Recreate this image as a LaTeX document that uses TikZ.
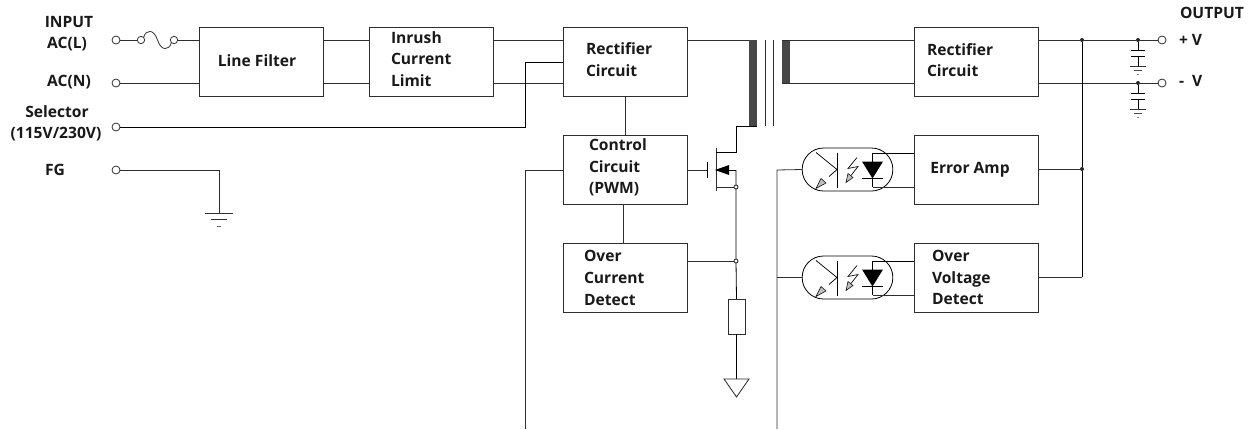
\documentclass[tikz,border=0pt]{standalone}
\usepackage{fontspec}
\setmainfont{Open Sans}
\begin{document}
\begin{tikzpicture}[x=0.75pt,y=-0.75pt,
  wire/.style={line width=0.6pt,draw=black!82},
  bwire/.style={line width=0.6pt,draw=black},
  blockbox/.style={draw=black!82,line width=0.7pt,minimum width=93pt,minimum height=51.75pt,inner sep=0pt,outer sep=0pt},
  terminal/.style={circle,draw=black!82,line width=0.6pt,fill=white,minimum size=6pt,inner sep=0pt,outer sep=0pt},
  fusepin/.style={circle,draw=black!82,line width=0.6pt,fill=white,minimum size=5.5pt,inner sep=0pt,outer sep=0pt},
  dotj/.style={circle,fill=black!85,minimum size=3pt,inner sep=0pt,outer sep=0pt},
  dotopen/.style={circle,draw=black,line width=0.5pt,fill=white,minimum size=3pt,inner sep=0pt,outer sep=0pt},
  lbl/.style={font=\bfseries\fontsize{11.7pt}{16.2pt}\selectfont,text=black!90,inner sep=0pt,outer sep=0pt,align=center},
  lbll/.style={lbl,anchor=west,align=left},
  core/.style={fill=black!72},
  stadium/.style={draw=black,line width=0.6pt,minimum width=68pt,minimum height=32.25pt,rounded corners=16pt,inner sep=0pt,outer sep=0pt},
  photo/.pic={
    \draw[line width=0.55pt] (35,-17)--(35,18);
    \draw[line width=0.55pt] (14,-17)--(35,0)--(27,7);
    \draw[line width=0.4pt,fill=black!25] (14,19)--(19,9)--(24,13.5)--cycle;
    \draw[line width=0.5pt] (55,-12)--(46,-1)--(56,-3)--(49,6);
    \draw[line width=0.4pt,fill=black!25] (44,13)--(46,4)--(51,8)--cycle;
    \fill[black] (60,-8)--(81,-8)--(70.5,9)--cycle;
    \draw[line width=0.6pt] (60,9)--(81,9);
  },
  earth/.pic={
    \draw[wire] (-14,0)--(14,0);
    \draw[wire] (-8,6)--(8,6);
    \draw[line width=0.5pt,draw=black!60] (-2,13)--(2,13);
  }]
\useasboundingbox (0,0) rectangle (1253,429);
% blocks
\node[blockbox] (lf) at (261,61.5) {};
\node[blockbox] (ir) at (431,61.5) {};
\node[blockbox] (r1) at (625,61.5) {};
\node[blockbox] (cc) at (625,169.5) {};
\node[blockbox] (oc) at (625,278) {};
\node[blockbox] (r2) at (976,61.5) {};
\node[blockbox] (ea) at (976,169.5) {};
\node[blockbox] (ov) at (976,278) {};
% block labels
\node[lbl] (tlf) at (257,61) {Line Filter};
\node[lbll] (tir) at (391,59) {Inrush\\Current\\Limit};
\node[lbll] (tr1) at (586,59.5) {Rectifier\\Circuit};
\node[lbll] (tcc) at (589,167.5) {Control\\Circuit\\(PWM)};
\node[lbll] (toc) at (584,278) {Over\\Current\\Detect};
\node[lbll] (tr2) at (927,60) {Rectifier\\Circuit};
\node[lbl] (tea) at (970,170) {Error Amp};
\node[lbll] (tov) at (932,277.5) {Over\\Voltage\\Detect};
% outer labels
\node[lbl] (l1) at (69,22) {INPUT};
\node[lbl] (l2) at (67,44) {AC(L)};
\node[lbl] (l3) at (69,82) {AC(N)};
\node[lbl] (l4) at (57,112) {Selector};
\node[lbl] (l5) at (56,134) {(115V/230V)};
\node[lbl] (l6) at (55,170) {FG};
\node[lbl] (l7) at (1212,13) {OUTPUT};
\node[lbl,anchor=west] (l8) at (1179,40) {+ V};
\node[lbl,anchor=west] (l9) at (1179,81) {-\ \ V};
% terminals
\node[terminal] (tL) at (116,40) {};
\node[terminal] (tN) at (116,83) {};
\node[terminal] (tS) at (116,127) {};
\node[terminal] (tF) at (116,170) {};
\node[terminal] (tP) at (1162,40) {};
\node[terminal] (tM) at (1162,83) {};
\node[fusepin] (fa) at (141,40) {};
\node[fusepin] (fb) at (174,40) {};
% input wiring
\draw[wire] (tL)--(fa);
\draw[wire] (fa.north east) .. controls (146,29) and (154,29) .. (157.5,40) .. controls (161,51) and (169,51) .. (fb.south west);
\draw[wire] (fb)--(fb-|lf.west);
\draw[wire] (tN)--(tN-|lf.west);
\draw[wire] (lf.east|-fb)--(ir.west|-fb);
\draw[wire] (lf.east|-tN)--(ir.west|-tN);
\draw[wire] (ir.east|-fb)--(r1.west|-fb);
\draw[wire] (ir.east|-tN)--(r1.west|-tN);
\coordinate (selc) at (525,127);
\coordinate (selt) at (525,62);
\draw[bwire] (tS)--(selc)--(selt)--(selt-|r1.west);
% FG
\coordinate (gc) at (219,170);
\coordinate (g0) at (219,213);
\draw[wire] (tF)--(gc)--(g0);
\pic at (g0) {earth};
% vertical between blocks
\draw[wire] (625,96)--(625,135);
\draw[wire] (623,204)--(623,243);
% transformer
\coordinate (pa) at (749,40);
\coordinate (pb) at (757,126);
\coordinate (sa) at (782,40);
\coordinate (sb) at (790,83);
\draw[wire] (r1.east|-pa)--(pa);
\fill[core] (pa) rectangle (pb);
\draw[wire] (765,40)--(765,126);
\draw[wire] (773,40)--(773,126);
\fill[core] (sa) rectangle (sb);
\draw[wire] (sa)--(r2.west|-sa);
\draw[wire] (sb-|sa)--(r2.west|-sb);
% MOSFET
\coordinate (dr) at (716,152);
\coordinate (dk) at (736,152);
\coordinate (s1) at (716,170);
\coordinate (s2) at (736,170);
\coordinate (gt) at (707,170);
\draw[wire] (cc.east|-gt)--(gt);
\draw[bwire] (707,162)--(707,178);
\draw[wire] (716,148)--(716,191);
\draw[bwire] (dr)--(dk)--(736,126)--(pb);
\draw[bwire] (s1)--(s2);
\fill[black] (715,170)--(729,165)--(729,175)--cycle;
\node[dotopen] (nS) at (736,187) {};
\node[dotopen] (nO) at (736,261) {};
\draw[wire] (716,187)--(nS);
\node[blockbox,minimum width=12.75pt,minimum height=26.25pt] (rs) at (736.5,316.5) {};
\draw[bwire] (s2)--(nS)--(nO)--(rs.north);
\coordinate (gn) at (736.5,379);
\draw[bwire] (rs.south)--(gn);
\draw[line width=0.6pt,black!85] (724,379)--(749,379)--(736.5,397)--cycle;
\draw[wire] (oc.east|-nO)--(nO);
% feedback
\coordinate (fl) at (525,170);
\coordinate (fle) at (525,429);
\draw[wire] (cc.west|-fl)--(fl)--(fle);
\coordinate (frt) at (777,170);
\coordinate (frb) at (777,429);
\node[stadium] (o1) at (847.5,169.5) {};
\node[stadium] (o2) at (847.5,277.5) {};
\draw[wire] (frb)--(frt)--(o1.west);
\draw[wire] (o2.west)--(o2.west-|frt);
\pic at (802,169.5) {photo};
\pic at (802,277.5) {photo};
\draw[line width=0.55pt,black] (872.5,153)--(872.5,186.5);
\draw[line width=0.55pt,black] (872.5,261)--(872.5,294.5);
\draw[bwire] (872.5,153)--(ea.west|-0,153);
\draw[wire] (872.5,187)--(ea.west|-0,187);
\draw[bwire] (872.5,261)--(ov.west|-0,261);
\draw[wire] (872.5,295)--(ov.west|-0,295);
% output
\node[dotj] (j1) at (1082,40) {};
\node[dotj] (j2) at (1082,169) {};
\node[dotj] (c1) at (1138,40) {};
\node[dotj] (c2) at (1138,83) {};
\coordinate (j3) at (1082,277);
\draw[wire,line width=0.75pt] (r2.east|-j1)--(j1)--(c1)--(tP);
\draw[wire] (r2.east|-c2)--(c2)--(tM);
\draw[bwire] (j1)--(j2)--(j3);
\draw[wire] (ea.east|-j2)--(j2);
\draw[wire] (ov.east|-j3)--(j3);
\foreach \c/\y in {c1/40,c2/83}{
  \draw[line width=0.55pt,black] (\c)--(1138,\y+10);
  \draw[line width=0.6pt,black] (1131,\y+10)--(1145,\y+10);
  \draw[line width=0.6pt,black] (1131,\y+16)--(1145,\y+16);
  \draw[line width=0.55pt,black] (1138,\y+16)--(1138,\y+26);
  \draw[line width=0.6pt,black!80] (1130,\y+26)--(1146,\y+26);
  \draw[line width=0.55pt,black!70] (1134,\y+30)--(1142,\y+30);
  \draw[line width=0.5pt,black!50] (1137,\y+34)--(1139,\y+34);
}
\end{tikzpicture}
\end{document}
